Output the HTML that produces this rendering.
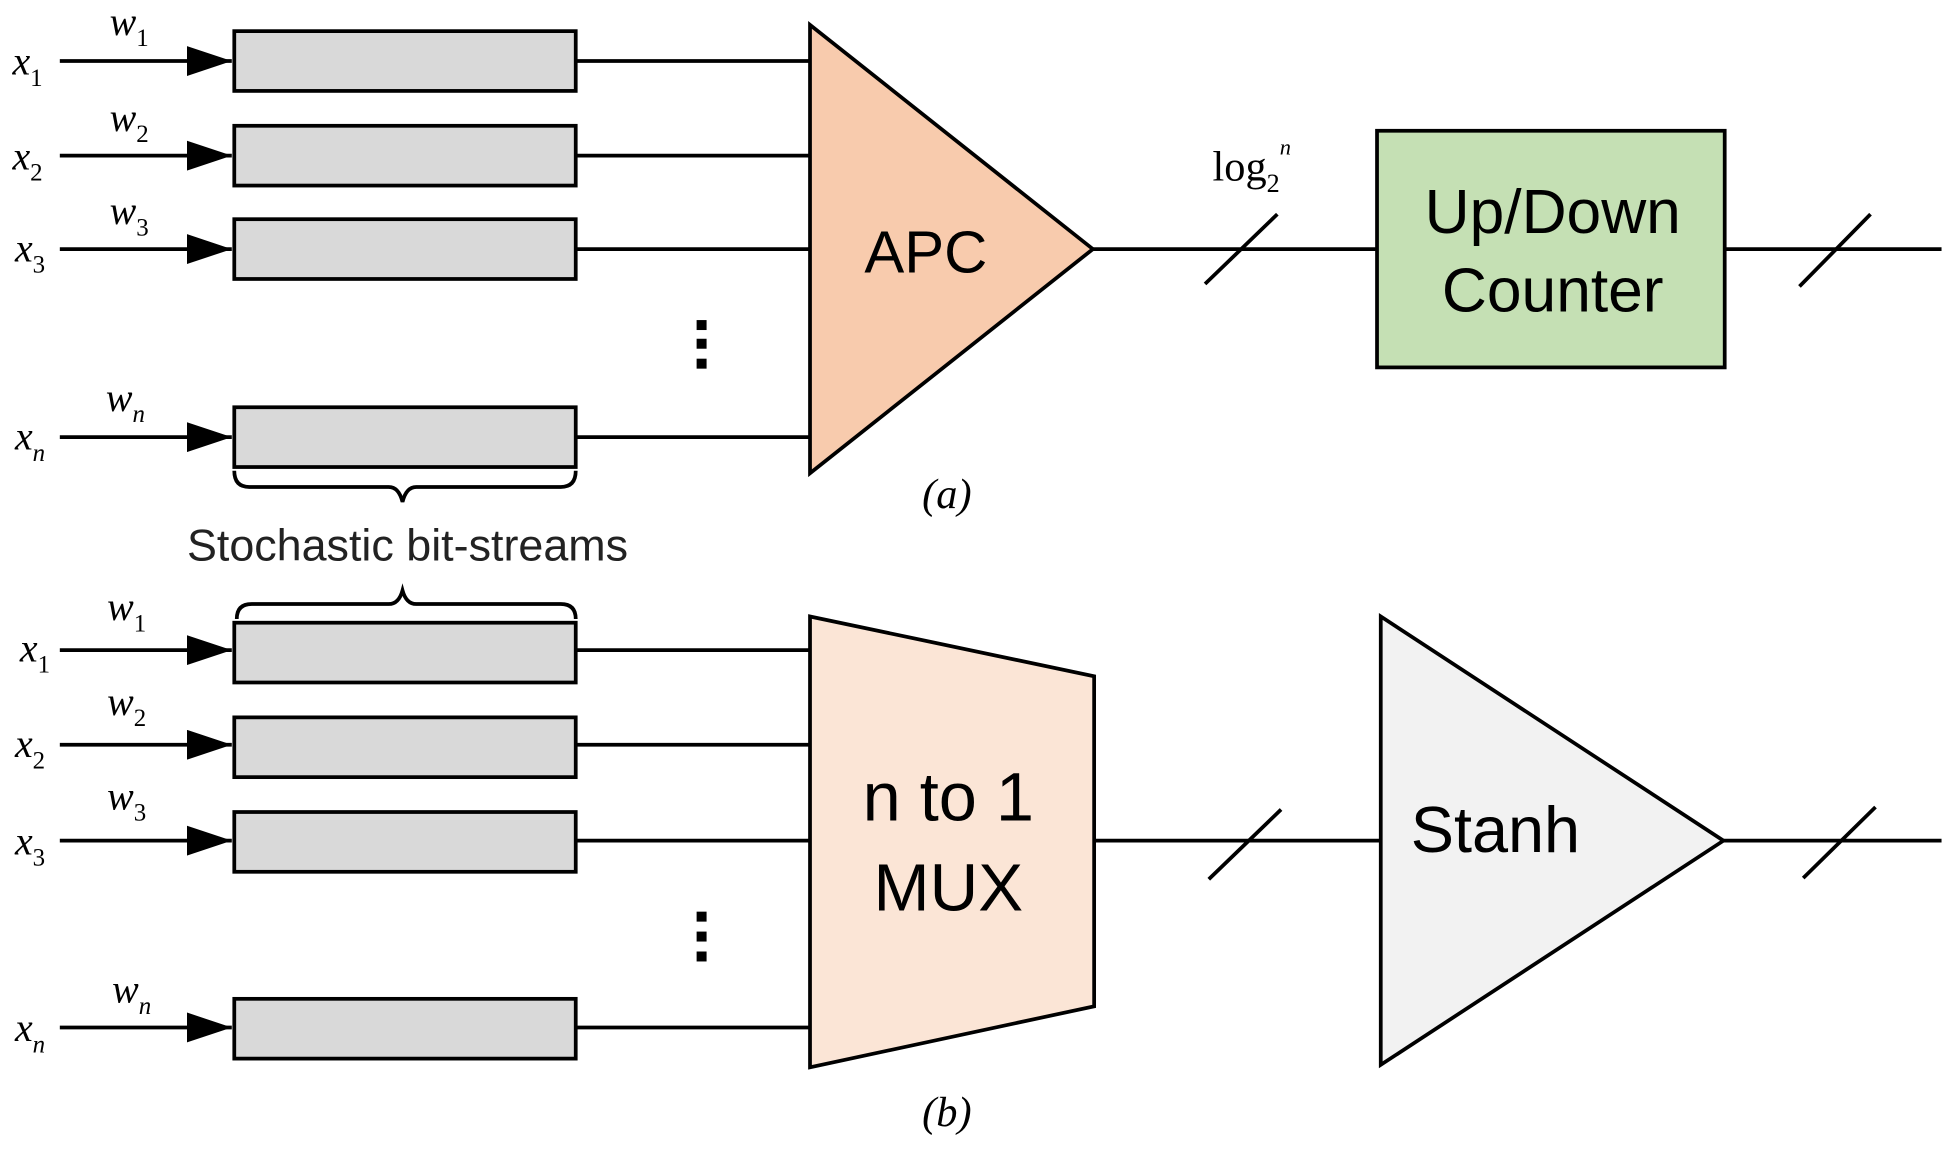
<!DOCTYPE html>
<html><head><meta charset="utf-8"><style>
html,body{margin:0;padding:0;background:#fff;}
svg{display:block;}
.it{font-family:"Liberation Serif",serif;font-style:italic;}
.up{font-style:normal;}
.sf{font-family:"Liberation Sans",sans-serif;}
</style></head><body>
<svg width="1954" height="1157" viewBox="0 0 1568 929" preserveAspectRatio="none" xmlns="http://www.w3.org/2000/svg">
<defs>
<marker id="ar" markerWidth="36" markerHeight="24" refX="36" refY="12" orient="auto" markerUnits="userSpaceOnUse">
<path d="M0,0 L36,12 L0,24 Z" fill="#000"/></marker>
</defs>
<g stroke="#000" stroke-width="3" fill="none">
<line x1="48" y1="49" x2="186" y2="49" marker-end="url(#ar)"/>
<line x1="48" y1="125" x2="186" y2="125" marker-end="url(#ar)"/>
<line x1="48" y1="200" x2="186" y2="200" marker-end="url(#ar)"/>
<line x1="48" y1="351" x2="186" y2="351" marker-end="url(#ar)"/>
<rect x="188" y="25" width="274" height="48" fill="#d9d9d9"/>
<rect x="188" y="101" width="274" height="48" fill="#d9d9d9"/>
<rect x="188" y="176" width="274" height="48" fill="#d9d9d9"/>
<rect x="188" y="327" width="274" height="48" fill="#d9d9d9"/>
<line x1="462" y1="49" x2="650" y2="49"/>
<line x1="462" y1="125" x2="650" y2="125"/>
<line x1="462" y1="200" x2="650" y2="200"/>
<line x1="462" y1="351" x2="650" y2="351"/>
<polygon points="650,20 650,380 877,200" fill="#f8cbad"/>
<line x1="877" y1="200" x2="1105" y2="200"/>
<line x1="967" y1="228" x2="1025" y2="172"/>
<rect x="1105" y="105" width="279" height="190" fill="#c5e0b4"/>
<line x1="1384" y1="200" x2="1558" y2="200"/>
<line x1="1444" y1="230" x2="1501" y2="172"/>
<path d="M188,378 Q188,391 200,391 L312,391 Q320,391 323,403 Q326,391 334,391 L450,391 Q462,391 462,378"/>
<line x1="48" y1="522" x2="186" y2="522" marker-end="url(#ar)"/>
<line x1="48" y1="598" x2="186" y2="598" marker-end="url(#ar)"/>
<line x1="48" y1="675" x2="186" y2="675" marker-end="url(#ar)"/>
<line x1="48" y1="825" x2="186" y2="825" marker-end="url(#ar)"/>
<rect x="188" y="500" width="274" height="48" fill="#d9d9d9"/>
<rect x="188" y="576" width="274" height="48" fill="#d9d9d9"/>
<rect x="188" y="652" width="274" height="48" fill="#d9d9d9"/>
<rect x="188" y="802" width="274" height="48" fill="#d9d9d9"/>
<line x1="462" y1="522" x2="650" y2="522"/>
<line x1="462" y1="598" x2="650" y2="598"/>
<line x1="462" y1="675" x2="650" y2="675"/>
<line x1="462" y1="825" x2="650" y2="825"/>
<path d="M190,497 Q190,485 202,485 L312,485 Q320,485 323,474 Q326,485 334,485 L450,485 Q462,485 462,497"/>
<polygon points="650,495 878,543 878,808 650,857" fill="#fbe5d6"/>
<line x1="878" y1="675" x2="1108" y2="675"/>
<line x1="970" y1="706" x2="1028" y2="650"/>
<polygon points="1108,495 1108,855 1383,675" fill="#f2f2f2"/>
<line x1="1383" y1="675" x2="1558" y2="675"/>
<line x1="1447" y1="705" x2="1505" y2="648"/>
</g>
<g fill="#000">
<rect x="559" y="257" width="8" height="8"/><rect x="559" y="272" width="8" height="8"/><rect x="559" y="288" width="8" height="8"/>
<rect x="559" y="732" width="8" height="8"/><rect x="559" y="748" width="8" height="8"/><rect x="559" y="764" width="8" height="8"/>
</g>
<g class="it" font-size="32">
<text x="10" y="60">x<tspan class="up" font-size="20" dy="9">1</tspan></text>
<text x="88" y="28">w<tspan class="up" font-size="20" dy="9">1</tspan></text>
<text x="10" y="136">x<tspan class="up" font-size="20" dy="9">2</tspan></text>
<text x="88" y="105">w<tspan class="up" font-size="20" dy="9">2</tspan></text>
<text x="12" y="210">x<tspan class="up" font-size="20" dy="9">3</tspan></text>
<text x="88" y="180">w<tspan class="up" font-size="20" dy="9">3</tspan></text>
<text x="12" y="361">x<tspan font-size="20" dy="9">n</tspan></text>
<text x="85" y="330">w<tspan font-size="20" dy="9">n</tspan></text>
<text x="16" y="531">x<tspan class="up" font-size="20" dy="9">1</tspan></text>
<text x="86" y="498">w<tspan class="up" font-size="20" dy="9">1</tspan></text>
<text x="12" y="608">x<tspan class="up" font-size="20" dy="9">2</tspan></text>
<text x="86" y="574">w<tspan class="up" font-size="20" dy="9">2</tspan></text>
<text x="12" y="686">x<tspan class="up" font-size="20" dy="9">3</tspan></text>
<text x="86" y="650">w<tspan class="up" font-size="20" dy="9">3</tspan></text>
<text x="12" y="836">x<tspan font-size="20" dy="9">n</tspan></text>
<text x="90" y="805">w<tspan font-size="20" dy="9">n</tspan></text>
<text x="740" y="408" font-size="34">(a)</text>
<text x="740" y="904" font-size="34">(b)</text>
</g>
<text x="973" y="145" font-family="Liberation Serif,serif" font-size="34">log<tspan font-size="21" dy="9">2</tspan><tspan class="it" font-size="18" dy="-30">n</tspan></text>
<g class="sf" text-anchor="middle" fill="#000">
<text x="743" y="219" font-size="48">APC</text>
<text x="1246" y="187" font-size="50">Up/Down</text>
<text x="1246" y="250" font-size="50">Counter</text>
<text x="327" y="450" font-size="36" fill="#222">Stochastic bit-streams</text>
<text x="761" y="659" font-size="55">n to 1</text>
<text x="761" y="731" font-size="54">MUX</text>
<text x="1200" y="684" font-size="52">Stanh</text>
</g>
</svg>
</body></html>
